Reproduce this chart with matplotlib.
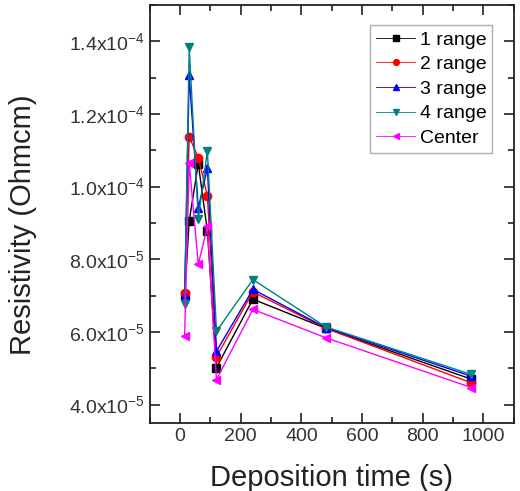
import numpy as np
import matplotlib.pyplot as plt
from matplotlib.ticker import FuncFormatter, MultipleLocator

plt.rcParams['font.family'] = ['Liberation Sans', 'DejaVu Sans']
plt.rcParams['mathtext.fontset'] = 'custom'
plt.rcParams['mathtext.rm'] = 'Liberation Sans'
plt.rcParams['mathtext.it'] = 'Liberation Sans'

# deposition time (s)
t = [15, 30, 60, 90, 120, 240, 480, 960]
# resistivity in units of 1e-5 Ohm cm
range1 = [7.02, 9.05, 10.63, 8.77, 5.02, 6.90, 6.10, 4.70]
range2 = [7.08, 11.37, 10.80, 9.74, 5.32, 7.10, 6.10, 4.60]
range3 = [6.99, 13.08, 9.40, 10.52, 5.47, 7.17, 6.12, 4.78]
range4 = [6.76, 13.83, 9.12, 10.98, 6.02, 7.44, 6.14, 4.83]
center = [5.90, 10.65, 7.86, 8.91, 4.69, 6.62, 5.84, 4.47]

labels = ['1 range', '2 range', '3 range', '4 range', 'Center']
series = [range1, range2, range3, range4, center]
colors = ['black', 'red', 'blue', '#008080', 'magenta']
markers = ['s', 'o', '^', 'v', '<']

fig = plt.figure(figsize=(5.2, 4.91), dpi=100)
ax = fig.add_axes([0.288, 0.139, 0.700, 0.851])

for ys, lab, c, m in zip(series, labels, colors, markers):
    ax.plot(t, np.array(ys) * 1e-5, color=c, marker=m, markersize=6,
            linewidth=1, label=lab)

ax.set_xlim(-100, 1100)
ax.set_ylim(3.5e-5, 1.5e-4)
ax.xaxis.set_major_locator(MultipleLocator(200))
ax.xaxis.set_minor_locator(MultipleLocator(100))
ax.yaxis.set_major_locator(MultipleLocator(2e-5))
ax.yaxis.set_minor_locator(MultipleLocator(1e-5))


def fmt(v, pos):
    if v == 0:
        return '0'
    e = int(np.floor(np.log10(abs(v)) + 1e-9))
    m = v / 10 ** e
    return '%.1fx10$^{%d}$' % (m, e)


ax.yaxis.set_major_formatter(FuncFormatter(fmt))
ax.tick_params(which='both', direction='in', top=True, right=True, width=1.3,
               labelsize=14, colors='#333333')
ax.tick_params(which='major', length=7)
ax.tick_params(which='minor', length=4)
for s in ax.spines.values():
    s.set_linewidth(1.3)
    s.set_color('#222222')

ax.set_xlabel('Deposition time (s)', fontsize=21, color='#222222', labelpad=14)
ax.set_ylabel('Resistivity (Ohmcm)', fontsize=21, color='#222222')
ax.yaxis.set_label_coords(-0.31, 0.474)

leg = ax.legend(loc='upper right', fontsize=14, frameon=True, fancybox=False,
                edgecolor='#999999', handlelength=2.0, borderpad=0.3,
                labelspacing=0.36, handletextpad=0.25, markerscale=0.7,
                bbox_to_anchor=(0.968, 0.975))
for h in leg.legend_handles:
    h.set_linewidth(0.6)

fig.savefig('out.png', dpi=100)
